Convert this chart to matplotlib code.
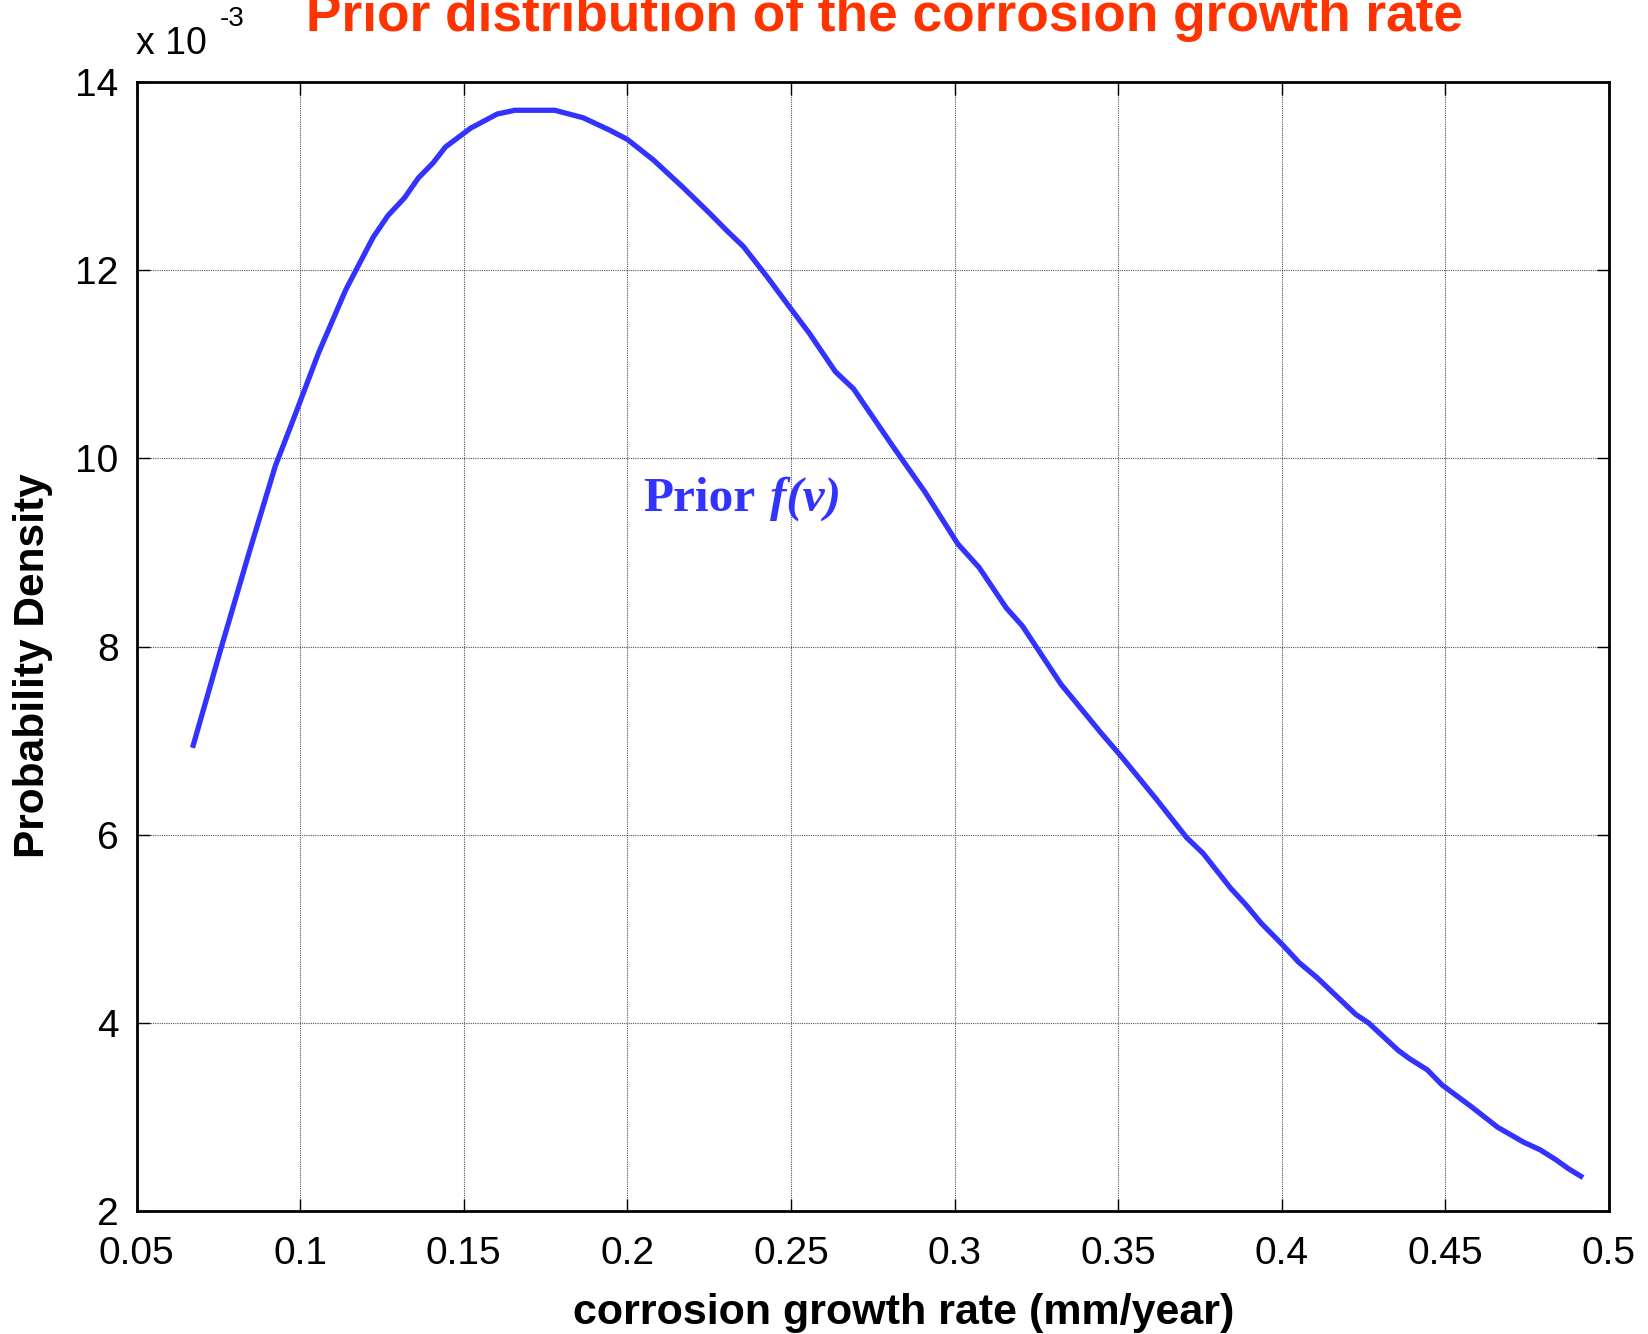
import numpy as np
import matplotlib
matplotlib.use('Agg')
import matplotlib.pyplot as plt

plt.rcParams.update({
    'font.family': 'Liberation Sans',
    'font.size': 28,
    'xtick.labelsize': 28,
    'ytick.labelsize': 28,
})

# corrosion growth rate (mm/year) and prior density (x 1e-3)
rate = [0.0673, 0.0757, 0.0844, 0.0924, 0.0972, 0.1056, 0.1139, 0.1223, 0.1268,
        0.1319, 0.1361, 0.1406, 0.1444, 0.1521, 0.1602, 0.1656, 0.1778, 0.1865,
        0.1945, 0.2000, 0.2080, 0.2170, 0.2250, 0.2304, 0.2355, 0.2427, 0.2491,
        0.2556, 0.2636, 0.2691, 0.2813, 0.2910, 0.3010, 0.3075, 0.3158, 0.3207,
        0.3325, 0.3448, 0.3510, 0.3616, 0.3709, 0.3760, 0.3844, 0.3889, 0.3937,
        0.4005, 0.4053, 0.4108, 0.4226, 0.4265, 0.4355, 0.4390, 0.4445, 0.4490,
        0.4579, 0.4660, 0.4740, 0.4790, 0.4840, 0.4876, 0.4914]
density = [6.95, 7.97, 9.00, 9.92, 10.35, 11.12, 11.79, 12.35, 12.58,
           12.77, 12.98, 13.14, 13.31, 13.51, 13.66, 13.70, 13.70, 13.62,
           13.49, 13.39, 13.17, 12.88, 12.61, 12.42, 12.25, 11.93, 11.63,
           11.33, 10.92, 10.74, 10.12, 9.64, 9.09, 8.84, 8.41, 8.22,
           7.60, 7.08, 6.83, 6.38, 5.97, 5.80, 5.43, 5.26, 5.06,
           4.82, 4.64, 4.48, 4.09, 4.00, 3.71, 3.62, 3.50, 3.34,
           3.11, 2.89, 2.73, 2.65, 2.54, 2.45, 2.37]

xticks = [0.05, 0.1, 0.15, 0.2, 0.25, 0.3, 0.35, 0.4, 0.45, 0.5]
xticklabels = ['0.05', '0.1', '0.15', '0.2', '0.25', '0.3', '0.35', '0.4', '0.45', '0.5']
yticks = [2, 4, 6, 8, 10, 12, 14]

fig = plt.figure(figsize=(16.48, 13.34), dpi=100)
ax = fig.add_axes([0.0829, 0.0922, 0.8934, 0.8463])

ax.plot(rate, density, color='#3333FF', linewidth=3.8, solid_joinstyle='miter')

ax.set_xlim(0.05, 0.5)
ax.set_ylim(2, 14)
ax.set_xticks(xticks)
ax.set_xticklabels(xticklabels)
ax.set_yticks(yticks)
ax.tick_params(direction='in', length=9, width=1, top=True, right=True)
ax.tick_params(axis='x', pad=18)
ax.tick_params(axis='y', pad=13)
for s in ax.spines.values():
    s.set_linewidth(2)
ax.grid(True, color='#555555', linestyle=(0, (1, 1)), linewidth=0.8)

ax.set_xlabel('corrosion growth rate (mm/year)', fontsize=31, fontweight='bold')
ax.set_ylabel('Probability Density', fontsize=30.5, fontweight='bold')
ax.xaxis.set_label_coords(0.521, -0.0725)
ax.yaxis.set_label_coords(-0.0568, 0.483)

# scale factor on y axis
fig.text(136 / 1648, 1 - 44 / 1334, 'x 10', fontsize=27, va='center', ha='left')
fig.text(220 / 1648, 1 - 19 / 1334, '-3', fontsize=20, va='center', ha='left')

fig.text(0.537, 1 - 31 / 1334, 'Prior distribution of the corrosion growth rate',
         fontsize=38.3, fontweight='bold', color='#FF3300', ha='center', va='baseline')

# curve label
ax.text(0.2048, 9.44, 'Prior', fontsize=35.5, fontweight='bold', color='#3333FF',
        family='Liberation Serif', ha='left', va='baseline')
ax.text(0.2437, 9.44, 'f(v)', fontsize=35.5, fontweight='bold', style='italic',
        color='#3333FF', family='Liberation Serif', ha='left', va='baseline')

fig.savefig('out.png', dpi=100)
